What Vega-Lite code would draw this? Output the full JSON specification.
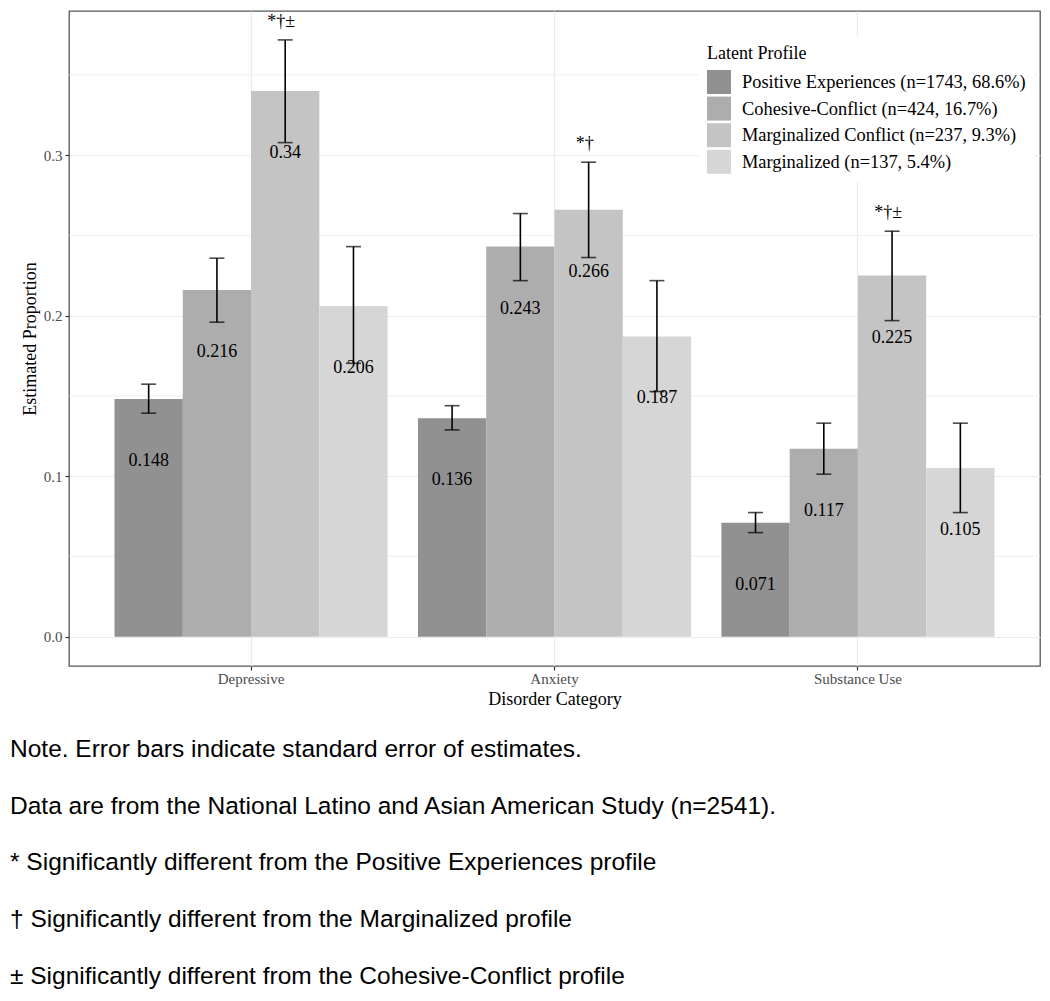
{
  "$schema": "https://vega.github.io/schema/vega-lite/v6.json",
  "width": 971,
  "height": 655,
  "autosize": {"type": "none"},
  "padding": {"left": 69, "top": 11, "right": 10, "bottom": 335},
  "background": "white",
  "config": {
    "view": {"stroke": "#555555", "strokeWidth": 1.3},
    "font": "Liberation Serif"
  },
  "title": {
    "text": [
      "Note. Error bars indicate standard error of estimates.",
      "Data are from the National Latino and Asian American Study (n=2541).",
      "* Significantly different from the Positive Experiences profile",
      "† Significantly different from the Marginalized profile",
      "± Significantly different from the Cohesive-Conflict profile"
    ],
    "orient": "bottom",
    "anchor": "start",
    "frame": "group",
    "font": "Liberation Sans",
    "fontSize": 24.5,
    "fontWeight": "normal",
    "lineHeight": 56.7,
    "color": "black",
    "dx": -59,
    "offset": 30,
    "baseline": "top"
  },
  "datasets": {
    "bars": [
      {"category": "Depressive", "profile": "Positive Experiences (n=1743, 68.6%)", "value": 0.148, "lo": 0.1392, "hi": 0.1573, "sig": ""},
      {"category": "Depressive", "profile": "Cohesive-Conflict (n=424, 16.7%)", "value": 0.216, "lo": 0.1959, "hi": 0.2358, "sig": ""},
      {"category": "Depressive", "profile": "Marginalized Conflict (n=237, 9.3%)", "value": 0.34, "lo": 0.3078, "hi": 0.3718, "sig": "*†±"},
      {"category": "Depressive", "profile": "Marginalized (n=137, 5.4%)", "value": 0.206, "lo": 0.1703, "hi": 0.243, "sig": ""},
      {"category": "Anxiety", "profile": "Positive Experiences (n=1743, 68.6%)", "value": 0.136, "lo": 0.1288, "hi": 0.1439, "sig": ""},
      {"category": "Anxiety", "profile": "Cohesive-Conflict (n=424, 16.7%)", "value": 0.243, "lo": 0.2218, "hi": 0.2636, "sig": ""},
      {"category": "Anxiety", "profile": "Marginalized Conflict (n=237, 9.3%)", "value": 0.266, "lo": 0.2362, "hi": 0.2956, "sig": "*†"},
      {"category": "Anxiety", "profile": "Marginalized (n=137, 5.4%)", "value": 0.187, "lo": 0.1527, "hi": 0.2218, "sig": ""},
      {"category": "Substance Use", "profile": "Positive Experiences (n=1743, 68.6%)", "value": 0.071, "lo": 0.0648, "hi": 0.0773, "sig": ""},
      {"category": "Substance Use", "profile": "Cohesive-Conflict (n=424, 16.7%)", "value": 0.117, "lo": 0.1012, "hi": 0.133, "sig": ""},
      {"category": "Substance Use", "profile": "Marginalized Conflict (n=237, 9.3%)", "value": 0.225, "lo": 0.1969, "hi": 0.2526, "sig": "*†±"},
      {"category": "Substance Use", "profile": "Marginalized (n=137, 5.4%)", "value": 0.105, "lo": 0.0773, "hi": 0.133, "sig": ""}
    ],
    "minor": [{"m": 0.05}, {"m": 0.15}, {"m": 0.25}, {"m": 0.35}]
  },
  "layer": [
    {
      "data": {"name": "minor"},
      "mark": {"type": "rule", "color": "#EBEBEB", "strokeWidth": 0.8},
      "encoding": {
        "y": {"field": "m", "type": "quantitative", "scale": {"domain": [-0.0183, 0.3898], "nice": false, "zero": false}}
      }
    },
    {
      "data": {"name": "bars"},
      "mark": {"type": "bar"},
      "encoding": {
        "x": {
          "field": "category", "type": "nominal",
          "sort": ["Depressive", "Anxiety", "Substance Use"],
          "scale": {"paddingInner": 0.1, "paddingOuter": 0.15},
          "axis": {
            "title": "Disorder Category",
            "titleFont": "Liberation Serif", "titleFontSize": 18, "titleFontWeight": "normal", "titleColor": "black", "titlePadding": 4,
            "labelFont": "Liberation Serif", "labelFontSize": 15, "labelColor": "#4D4D4D", "labelPadding": 1, "labelAngle": 0,
            "tickColor": "#333333", "tickSize": 4, "tickWidth": 1.2,
            "domain": false,
            "grid": true, "gridColor": "#EBEBEB", "gridWidth": 1.2
          }
        },
        "xOffset": {
          "field": "profile", "type": "nominal",
          "sort": ["Positive Experiences (n=1743, 68.6%)", "Cohesive-Conflict (n=424, 16.7%)", "Marginalized Conflict (n=237, 9.3%)", "Marginalized (n=137, 5.4%)"],
          "scale": {"paddingInner": 0, "paddingOuter": 0}
        },
        "y": {
          "field": "value", "type": "quantitative",
          "scale": {"domain": [-0.0183, 0.3898], "nice": false, "zero": false},
          "axis": {
            "title": "Estimated Proportion",
            "values": [0, 0.1, 0.2, 0.3], "format": ".1f",
            "titleFont": "Liberation Serif", "titleFontSize": 18, "titleFontWeight": "normal", "titleColor": "black", "titlePadding": 4,
            "labelFont": "Liberation Serif", "labelFontSize": 15, "labelColor": "#4D4D4D", "labelPadding": 3,
            "tickColor": "#333333", "tickSize": 4, "tickWidth": 1.2,
            "domain": false,
            "grid": true, "gridColor": "#EBEBEB", "gridWidth": 1.2
          }
        },
        "y2": {"datum": 0},
        "color": {
          "field": "profile", "type": "nominal",
          "scale": {
            "domain": ["Positive Experiences (n=1743, 68.6%)", "Cohesive-Conflict (n=424, 16.7%)", "Marginalized Conflict (n=237, 9.3%)", "Marginalized (n=137, 5.4%)"],
            "range": ["#919191", "#adadad", "#c4c4c4", "#d6d6d6"]
          },
          "legend": {
            "title": "Latent Profile",
            "orient": "none", "legendX": 630, "legendY": 26,
            "fillColor": "white", "padding": 8,
            "symbolType": "square", "symbolSize": 576, "symbolStrokeWidth": 0, "symbolOpacity": 1,
            "labelFont": "Liberation Serif", "labelFontSize": 18.4, "labelColor": "black", "labelOffset": 11, "labelLimit": 400,
            "titleFont": "Liberation Serif", "titleFontSize": 18, "titleFontWeight": "normal", "titleColor": "black", "titlePadding": 7,
            "rowPadding": 2.6
          }
        }
      }
    },
    {
      "data": {"name": "bars"},
      "mark": {"type": "rule", "color": "black", "strokeWidth": 1.6},
      "encoding": {
        "x": {"field": "category", "type": "nominal", "sort": ["Depressive", "Anxiety", "Substance Use"]},
        "xOffset": {"field": "profile", "type": "nominal", "sort": ["Positive Experiences (n=1743, 68.6%)", "Cohesive-Conflict (n=424, 16.7%)", "Marginalized Conflict (n=237, 9.3%)", "Marginalized (n=137, 5.4%)"]},
        "y": {"field": "lo", "type": "quantitative"},
        "y2": {"field": "hi"}
      }
    },
    {
      "data": {"name": "bars"},
      "mark": {"type": "tick", "color": "black", "orient": "horizontal", "size": 15, "thickness": 1.6},
      "encoding": {
        "x": {"field": "category", "type": "nominal", "sort": ["Depressive", "Anxiety", "Substance Use"]},
        "xOffset": {"field": "profile", "type": "nominal", "sort": ["Positive Experiences (n=1743, 68.6%)", "Cohesive-Conflict (n=424, 16.7%)", "Marginalized Conflict (n=237, 9.3%)", "Marginalized (n=137, 5.4%)"]},
        "y": {"field": "lo", "type": "quantitative"}
      }
    },
    {
      "data": {"name": "bars"},
      "mark": {"type": "tick", "color": "black", "orient": "horizontal", "size": 15, "thickness": 1.6},
      "encoding": {
        "x": {"field": "category", "type": "nominal", "sort": ["Depressive", "Anxiety", "Substance Use"]},
        "xOffset": {"field": "profile", "type": "nominal", "sort": ["Positive Experiences (n=1743, 68.6%)", "Cohesive-Conflict (n=424, 16.7%)", "Marginalized Conflict (n=237, 9.3%)", "Marginalized (n=137, 5.4%)"]},
        "y": {"field": "hi", "type": "quantitative"}
      }
    },
    {
      "data": {"name": "bars"},
      "mark": {"type": "text", "font": "Liberation Serif", "fontSize": 18, "color": "black", "baseline": "middle", "dy": 62},
      "encoding": {
        "x": {"field": "category", "type": "nominal", "sort": ["Depressive", "Anxiety", "Substance Use"]},
        "xOffset": {"field": "profile", "type": "nominal", "sort": ["Positive Experiences (n=1743, 68.6%)", "Cohesive-Conflict (n=424, 16.7%)", "Marginalized Conflict (n=237, 9.3%)", "Marginalized (n=137, 5.4%)"]},
        "y": {"field": "value", "type": "quantitative"},
        "text": {"field": "value", "type": "nominal"}
      }
    },
    {
      "data": {"name": "bars"},
      "transform": [{"filter": "datum.sig != ''"}],
      "mark": {"type": "text", "font": "Liberation Serif", "fontSize": 18, "color": "black", "baseline": "middle", "dy": -18, "dx": -4},
      "encoding": {
        "x": {"field": "category", "type": "nominal", "sort": ["Depressive", "Anxiety", "Substance Use"]},
        "xOffset": {"field": "profile", "type": "nominal", "sort": ["Positive Experiences (n=1743, 68.6%)", "Cohesive-Conflict (n=424, 16.7%)", "Marginalized Conflict (n=237, 9.3%)", "Marginalized (n=137, 5.4%)"]},
        "y": {"field": "hi", "type": "quantitative"},
        "text": {"field": "sig", "type": "nominal"}
      }
    }
  ]
}
